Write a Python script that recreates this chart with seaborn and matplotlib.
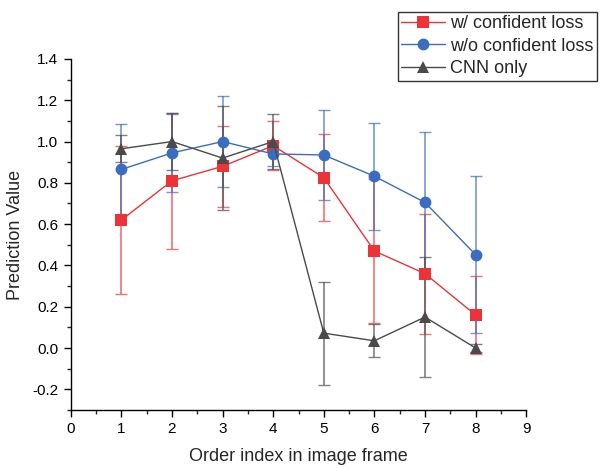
import numpy as np
import pandas as pd
import matplotlib
matplotlib.use('Agg')
import matplotlib.pyplot as plt
import seaborn as sns

# data
frames = [1, 2, 3, 4, 5, 6, 7, 8]
series_names = ['w/ confident loss', 'w/o confident loss', 'CNN only']
conf_mean = [0.62, 0.81, 0.88, 0.98, 0.825, 0.47, 0.36, 0.16]
conf_err = [0.36, 0.33, 0.195, 0.12, 0.21, 0.35, 0.29, 0.19]
noconf_mean = [0.865, 0.945, 1.0, 0.94, 0.935, 0.832, 0.705, 0.452]
noconf_err = [0.22, 0.19, 0.22, 0.06, 0.22, 0.26, 0.34, 0.38]
cnn_mean = [0.965, 1.0, 0.92, 1.0, 0.072, 0.035, 0.15, 0.0]
cnn_err = [0.065, 0.14, 0.25, 0.135, 0.25, 0.08, 0.29, 0.02]

colors = ['#EE3338', '#3A6DBF', '#4A4A4A']
markers = ['s', 'o', '^']

df = pd.DataFrame({
    'frame': frames * 3,
    'value': conf_mean + noconf_mean + cnn_mean,
    'err': conf_err + noconf_err + cnn_err,
    'series': [s for s in series_names for _ in frames],
})

sns.set_style('ticks')
plt.rcParams['font.family'] = ['Liberation Sans', 'DejaVu Sans']

fig = plt.figure(figsize=(6, 4.68), dpi=100)
ax = fig.add_axes([0.118, 0.124, 0.759, 0.75])

for name, c, m in zip(series_names, colors, markers):
    d = df[df['series'] == name]
    ax.errorbar(d['frame'], d['value'], yerr=d['err'], fmt='none',
                ecolor=c, alpha=0.7, elinewidth=1.2, capsize=4, capthick=1.0, zorder=2)

sns.lineplot(data=df, x='frame', y='value', hue='series', style='series',
             palette=colors, markers=markers, dashes=False, markersize=8.5,
             markeredgewidth=0, linewidth=1.0, ax=ax, zorder=3)

ax.set_xlim(0, 9)
ax.set_ylim(-0.3, 1.4)
ax.set_xticks(range(0, 10))
ax.set_yticks(np.arange(-0.2, 1.41, 0.2))
ax.set_yticklabels(['%.1f' % v for v in np.arange(-0.2, 1.41, 0.2)])
ax.set_xticks(np.arange(0.5, 9, 1), minor=True)
ax.set_yticks(np.arange(-0.3, 1.4, 0.1), minor=True)
ax.tick_params(which='major', direction='out', length=5, width=1, labelsize=11, colors='black', pad=4)
ax.tick_params(which='minor', direction='out', length=3, width=1)
for s in ['left', 'bottom']:
    ax.spines[s].set_linewidth(1)
    ax.spines[s].set_color('black')
sns.despine(ax=ax)

ax.set_xlabel('Order index in image frame', fontsize=13, labelpad=8)
ax.set_ylabel('Prediction Value', fontsize=13, labelpad=6)

leg = ax.legend(loc='upper right', bbox_to_anchor=(0.995, 0.975), bbox_transform=fig.transFigure,
                fontsize=13, frameon=True, fancybox=False, borderpad=0.2,
                labelspacing=0.3, handlelength=2.4, handletextpad=0.3, borderaxespad=0)
leg.get_frame().set_edgecolor('black')
leg.get_frame().set_linewidth(1)

fig.savefig('out.png', dpi=100)
